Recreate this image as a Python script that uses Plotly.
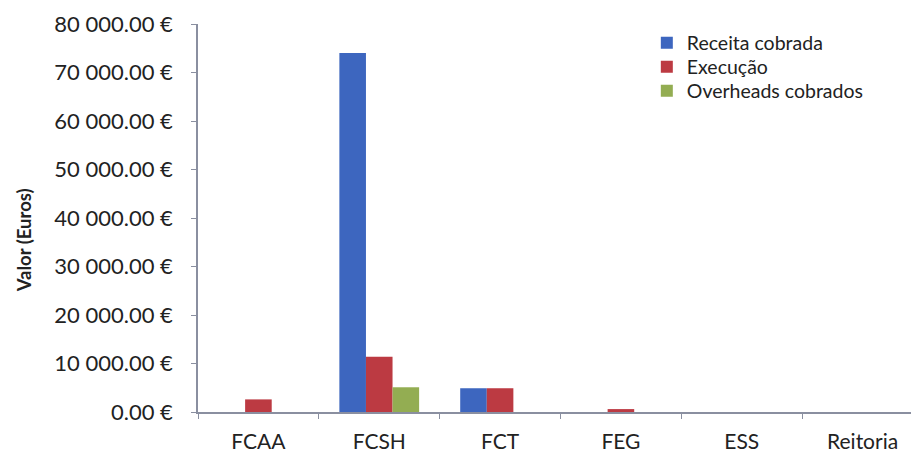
import plotly.graph_objects as go

categories = ["FCAA", "FCSH", "FCT", "FEG", "ESS", "Reitoria"]
receita_cobrada = [0, 74000, 4900, 0, 0, 0]
execucao = [2600, 11400, 4900, 600, 0, 0]
overheads_cobrados = [0, 5100, 0, 0, 0, 0]
series_names = ["Receita cobrada", "Execução", "Overheads cobrados"]
y_tick_values = [0, 10000, 20000, 30000, 40000, 50000, 60000, 70000, 80000]
y_tick_labels = ["0.00 €", "10 000.00 €", "20 000.00 €", "30 000.00 €", "40 000.00 €",
                 "50 000.00 €", "60 000.00 €", "70 000.00 €", "80 000.00 €"]
y_title = "Valor (Euros)"

colors = ["#3D66BF", "#BC3A42", "#93AD52"]
font_family = "Lato, 'Open Sans', sans-serif"
text_color = "#222222"
axis_color = "#8A8FA0"
legend_ids = ["legend", "legend2", "legend3"]
legend_rows_y = [0.951, 0.889, 0.827]

fig = go.Figure()
for name, vals, c, lid in zip(series_names, [receita_cobrada, execucao, overheads_cobrados],
                              colors, legend_ids):
    fig.add_trace(go.Bar(x=categories, y=vals, name=name, legend=lid,
                         marker=dict(color=c, line=dict(width=0))))

legend_common = dict(x=0.6225, xanchor="left", yanchor="middle",
                     font=dict(family=font_family, size=19.5, color=text_color),
                     bgcolor="rgba(0,0,0,0)", itemwidth=30)

fig.update_layout(
    width=911, height=446,
    margin=dict(l=190, r=0, t=16, b=42),
    paper_bgcolor="white", plot_bgcolor="white",
    barmode="group", bargap=0.34, bargroupgap=0,
    font=dict(family=font_family, size=21, color=text_color),
    showlegend=True,
    legend=dict(y=legend_rows_y[0], **legend_common),
    legend2=dict(y=legend_rows_y[1], **legend_common),
    legend3=dict(y=legend_rows_y[2], **legend_common),
    xaxis=dict(range=[-0.5, 5.467], showline=True, linecolor=axis_color, linewidth=1.5,
               ticks="outside", ticklen=5, tickcolor=axis_color, tickson="boundaries",
               showgrid=False, zeroline=False, ticklabelstandoff=10, automargin=False),
    yaxis=dict(range=[0, 80000], showline=True, linecolor=axis_color, linewidth=1.5,
               ticks="outside", ticklen=5, tickcolor=axis_color,
               tickvals=y_tick_values, ticktext=y_tick_labels, tickfont=dict(size=22),
               showgrid=False, zeroline=False, ticklabelstandoff=14, automargin=False),
    annotations=[dict(text="<b>" + y_title + "</b>", textangle=-90, xref="paper", yref="paper",
                      x=-0.241, y=0.443, showarrow=False,
                      font=dict(size=18.5, color=text_color),
                      xanchor="center", yanchor="middle")],
)

fig.write_html("out.html")
